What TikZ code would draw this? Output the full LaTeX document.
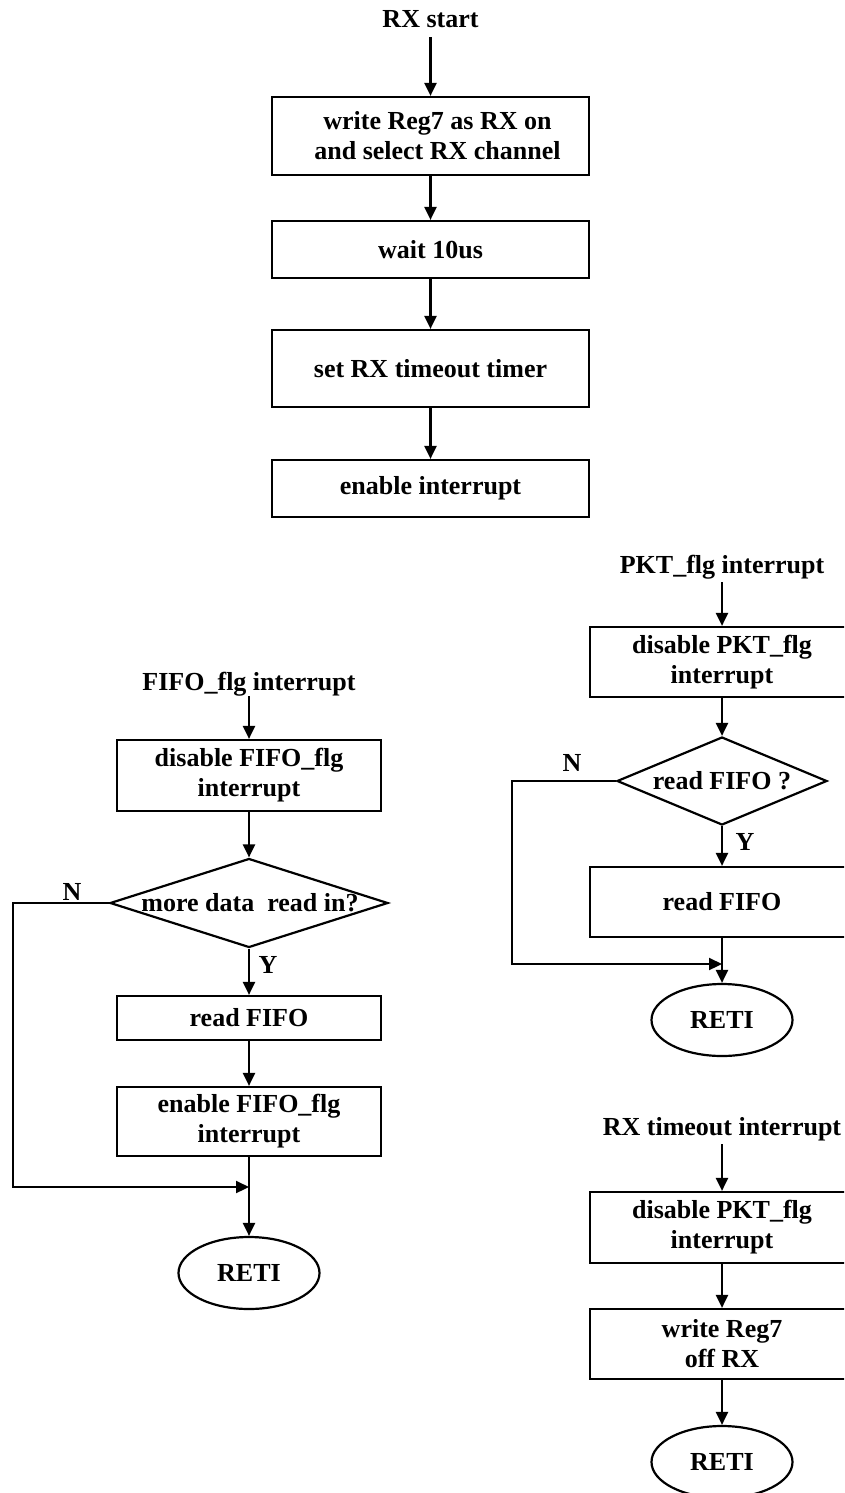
\documentclass[tikz,border=0pt]{standalone}
\usepackage{fontspec}
\setmainfont{Liberation Serif}
\usetikzlibrary{arrows.meta,shapes.geometric}
\begin{document}
\begin{tikzpicture}[x=1pt,y=-1pt,
  every node/.style={font=\fontsize{26}{30}\selectfont\bfseries, inner sep=0pt},
  flow/.style={line width=2.2pt, -{Triangle[length=13pt,width=12pt]}},
  titleflow/.style={flow, shorten <=3pt},
  title/.style={text height=18pt, text depth=6pt},
  proc/.style={draw, line width=2.2pt, align=center},
  widebox/.style={proc, minimum width=317pt},
  sidebox/.style={proc, minimum width=264pt},
  term/.style={draw, ellipse, line width=2.2pt, minimum width=141pt, minimum height=72pt},
  decision/.style={draw, diamond, line width=2.2pt},
  ]
\useasboundingbox (0,0) rectangle (844,1493);
\clip (0,0) rectangle (844,1493);

% ---- RX start sequence ----
\node[title] (rxs) at (430.5,22) {RX start};
\node[widebox, minimum height=78pt] (rx1) at (430.5,136)
  {\hspace*{14pt}write Reg7 as RX on\\\hspace*{14pt}and select RX channel};
\node[widebox, minimum height=57pt] (rx2) at (430.5,249.5) {wait 10us};
\node[widebox, minimum height=77pt] (rx3) at (430.5,368.5) {set RX timeout timer};
\node[widebox, minimum height=57pt] (rx4) at (430.5,488.5) {enable interrupt};

\draw[titleflow] (rxs.south) -- (rx1.north);
\draw[flow] (rx1.south) -- (rx2.north);
\draw[flow] (rx2.south) -- (rx3.north);
\draw[flow] (rx3.south) -- (rx4.north);

% ---- PKT_flg interrupt handler ----
\node[title] (pkt) at (722,567) {PKT\_flg interrupt};
\node[sidebox, minimum height=70pt] (p1) at (722,662) {disable PKT\_flg\\interrupt};
\node[decision, minimum width=210pt, minimum height=88pt] (p2) at (722,781) {};
\node (p2t) at (722,781) {read FIFO ?};
\node[sidebox, minimum height=70pt] (p3) at (722,902) {read FIFO};
\node[term] (p4) at (722,1020) {RETI};
\coordinate (pn1) at (512,781);
\coordinate (pn2) at (512,964);
\coordinate (pj) at (722,964);
\node (pN) at (572,763) {N};
\node (pY) at (745,842) {Y};

\draw[titleflow] (pkt.south) -- (p1.north);
\draw[flow] (p1.south) -- (p2.north);
\draw[flow] (p2.south) -- (p3.north);
\draw[flow] (p3.south) -- (p4.north);
\draw[flow] (p2.west) -- (pn1) -- (pn2) -- (pj);

% ---- FIFO_flg interrupt handler ----
\node[title] (fifo) at (249,684) {FIFO\_flg interrupt};
\node[sidebox, minimum height=71pt] (f1) at (249,775.5) {disable FIFO\_flg\\interrupt};
\node[decision, minimum width=278pt, minimum height=89pt] (f2) at (249,903) {};
\node (f2t) at (250,903) {more data\ \ read in?};
\node[sidebox, minimum height=44pt] (f3) at (249,1018) {read FIFO};
\node[sidebox, minimum height=69pt] (f4) at (249,1121.5) {enable FIFO\_flg\\interrupt};
\node[term] (f5) at (249,1273) {RETI};
\coordinate (fn1) at (13,903);
\coordinate (fn2) at (13,1187);
\coordinate (fj) at (249,1187);
\node (fN) at (72,892) {N};
\node (fY) at (268,965) {Y};

\draw[flow] (fifo.south) -- (f1.north);
\draw[flow] (f1.south) -- (f2.north);
\draw[flow] (f2.south) -- (f3.north);
\draw[flow] (f3.south) -- (f4.north);
\draw[flow] (f4.south) -- (f5.north);
\draw[flow] (f2.west) -- (fn1) -- (fn2) -- (fj);

% ---- RX timeout interrupt handler ----
\node[title] (tmo) at (722,1129) {RX timeout interrupt};
\node[sidebox, minimum height=71pt] (t1) at (722,1227.5) {disable PKT\_flg\\interrupt};
\node[sidebox, minimum height=70pt] (t2) at (722,1344) {write Reg7\\off RX};
\node[term] (t3) at (722,1462) {RETI};

\draw[titleflow] (tmo.south) -- (t1.north);
\draw[flow] (t1.south) -- (t2.north);
\draw[flow] (t2.south) -- (t3.north);
\end{tikzpicture}
\end{document}
